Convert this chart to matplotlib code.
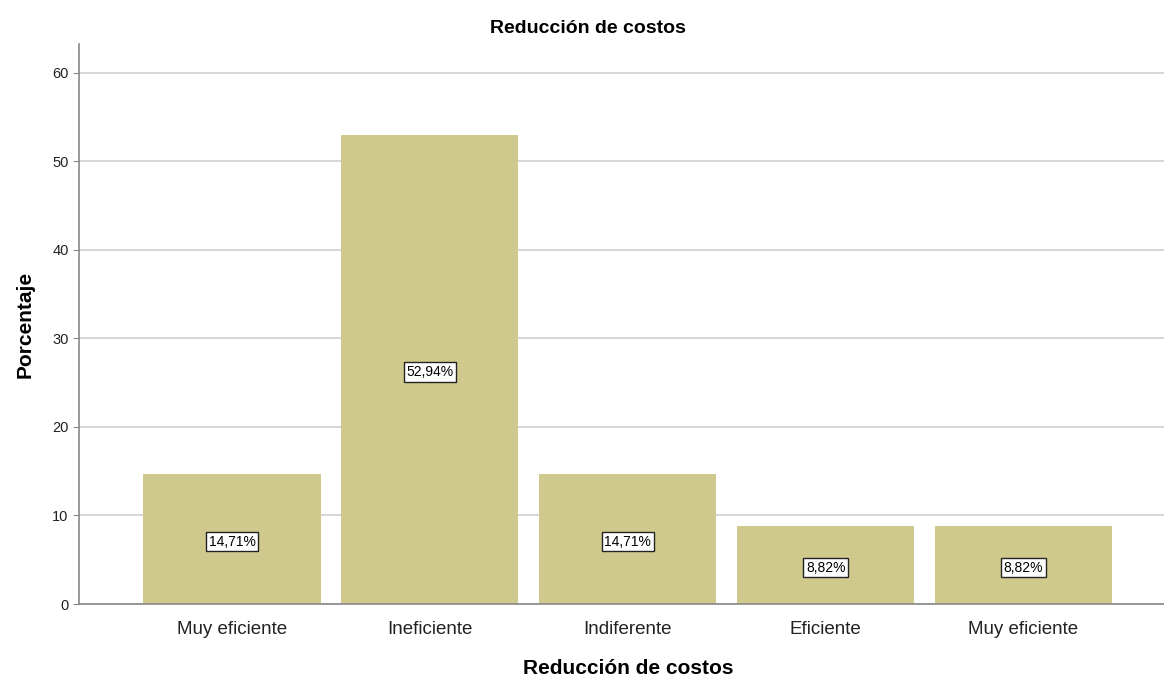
import matplotlib
matplotlib.use('Agg')
import matplotlib.pyplot as plt

plt.rcParams['font.family'] = ['Liberation Sans', 'DejaVu Sans']

categorias = ['Muy eficiente', 'Ineficiente', 'Indiferente', 'Eficiente', 'Muy eficiente']
porcentajes = [14.71, 52.94, 14.71, 8.82, 8.82]
etiquetas = ['14,71%', '52,94%', '14,71%', '8,82%', '8,82%']

fig = plt.figure(figsize=(11.64, 6.81), dpi=100)
ax = fig.add_axes([0.0679, 0.113, 0.9321, 0.822])

x = list(range(len(categorias)))
ax.bar(x, porcentajes, width=0.895, color='#cfc98e', zorder=2)

for xi, v, t in zip(x, porcentajes, etiquetas):
    ax.text(xi, v / 2 - 0.3, t, ha='center', va='center', fontsize=10, zorder=3,
            bbox=dict(boxstyle='square,pad=0.2', fc='white', ec='#222222', lw=1))

ax.set_xlim(-0.773, 4.71)
ax.set_ylim(0, 63.2)
ax.set_yticks([0, 10, 20, 30, 40, 50, 60])
ax.set_xticks(x)
ax.set_xticklabels(categorias, fontsize=13.5, color='#222222')
ax.tick_params(axis='y', labelsize=10.5, length=4, color='#888888', labelcolor='#222222')
ax.tick_params(axis='x', length=0, pad=12)
ax.yaxis.grid(True, color='#d0d0d0', lw=1.2, zorder=0)
ax.set_axisbelow(True)

for s in ['top', 'right']:
    ax.spines[s].set_visible(False)
ax.spines['left'].set_color('#888888')
ax.spines['bottom'].set_color('#888888')
ax.spines['left'].set_linewidth(1.2)
ax.spines['bottom'].set_linewidth(1.2)

ax.set_title('Reducción de costos', fontsize=14, fontweight='bold', pad=8, x=0.469)
ax.set_ylabel('Porcentaje', fontsize=15, fontweight='bold', labelpad=13)
ax.set_xlabel('Reducción de costos', fontsize=15, fontweight='bold')
ax.xaxis.set_label_coords(0.506, -0.098)

fig.savefig('out.png', dpi=100)
